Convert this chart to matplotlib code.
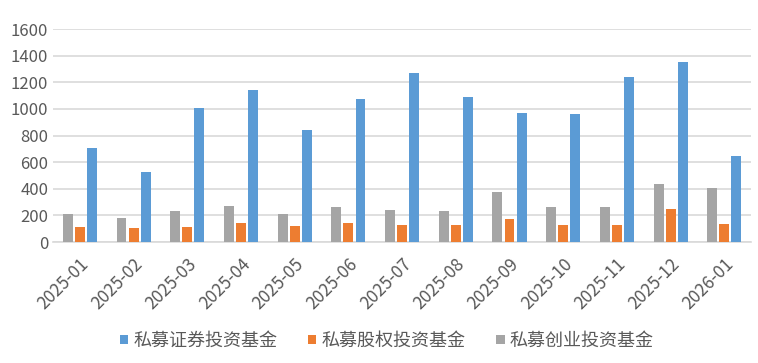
import matplotlib
matplotlib.use("Agg")
import matplotlib.pyplot as plt
import numpy as np

months = ["2025-01", "2025-02", "2025-03", "2025-04", "2025-05", "2025-06", "2025-07",
          "2025-08", "2025-09", "2025-10", "2025-11", "2025-12", "2026-01"]
securities = [707, 525, 1007, 1140, 842, 1075, 1270, 1090, 972, 965, 1240, 1355, 650]
equity = [115, 105, 115, 142, 122, 145, 127, 132, 175, 125, 132, 250, 137]
venture = [212, 182, 235, 272, 212, 260, 242, 232, 377, 265, 267, 437, 405]

names = ["私募证券投资基金", "私募股权投资基金", "私募创业投资基金"]
colors = ["#5B9BD5", "#ED7D31", "#A5A5A5"]

plt.rcParams['font.family'] = ['Noto Sans CJK SC', 'DejaVu Sans']

fig = plt.figure(figsize=(7.58, 3.63), dpi=100)
ax = fig.add_axes([0.07, 0.333, 0.921, 0.587])

x = np.arange(len(months))
w = 0.185
step = 0.225
b1 = ax.bar(x + step, securities, w, color=colors[0], label=names[0], zorder=3)
b2 = ax.bar(x, equity, w, color=colors[1], label=names[1], zorder=3)
b3 = ax.bar(x - step, venture, w, color=colors[2], label=names[2], zorder=3)

ax.set_xlim(-0.5, len(months) - 0.5)
ax.set_ylim(0, 1600)
ax.set_yticks(range(0, 1601, 200))
ax.yaxis.grid(True, color="#D9D9D9", linewidth=1.2, zorder=0)
for s in ["top", "right", "left"]:
    ax.spines[s].set_visible(False)
ax.spines["bottom"].set_color("#D9D9D9")
ax.spines["bottom"].set_linewidth(1.2)
ax.tick_params(axis="both", length=0, labelsize=12, colors="#595959")
ax.set_xticks(x)
ax.set_xticklabels(months, rotation=45, ha="right", rotation_mode="anchor", fontsize=12.5)
ax.tick_params(axis="x", pad=9)

leg = fig.legend(handles=[b1, b2, b3], loc="center", bbox_to_anchor=(387 / 758, 1 - 341 / 363),
                 ncol=3, frameon=False, fontsize=13, handlelength=0.45, handleheight=0.45,
                 handletextpad=0.3, columnspacing=1.7, labelcolor="#595959",
                 borderpad=0, borderaxespad=0)

fig.savefig("out.png", dpi=100)
